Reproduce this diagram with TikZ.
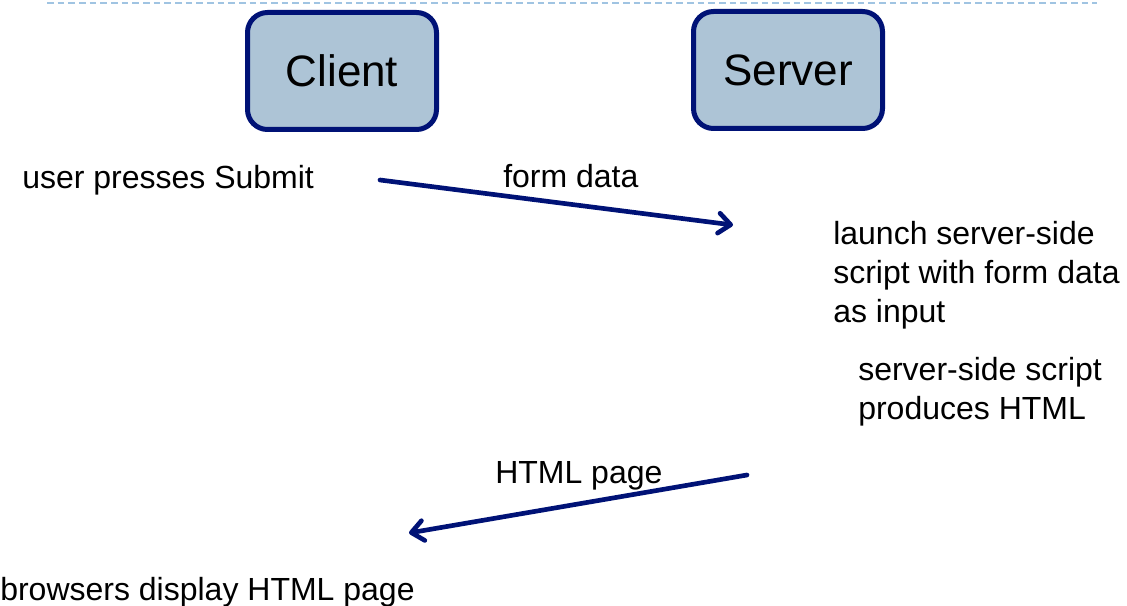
\documentclass[tikz,border=0pt]{standalone}
\usepackage{fontspec}
\setmainfont{Liberation Sans}
\usetikzlibrary{arrows.meta}
\definecolor{navy}{RGB}{0,18,118}
\definecolor{boxfill}{RGB}{173,196,214}
\definecolor{rule}{RGB}{160,196,226}
\tikzset{
  x=0.75pt, y=-0.75pt,
  actor/.style={draw=navy, line width=3.75pt, fill=boxfill, rounded corners=15pt,
    minimum width=141.75pt, minimum height=87.75pt, inner sep=0pt,
    font=\fontsize{33}{40}\selectfont},
  lbl/.style={inner sep=0pt, align=left, font=\fontsize{24}{29.25}\selectfont},
  msg/.style={draw=navy, line width=3.5pt, line cap=round,
    -{Straight Barb[length=9pt, width=15pt, line cap=round, line join=round]}}
}
\begin{document}
\begin{tikzpicture}
\useasboundingbox (0,0) rectangle (1127,606);
% header rule
\draw[rule, line width=0.9pt, dash pattern=on 5pt off 3pt] (47,3) -- (1097,3);

% the two parties
\node[actor] (client) at (342,71) {Client};
\node[actor] (server) at (788,70) {Server};

% step descriptions
\node[lbl, anchor=base west] (submit) at (22,188) {user presses Submit};
\node[lbl, anchor=base west] (formdata) at (503,187) {form data};
\node[lbl, anchor=north west] (launch) at (833,221) {launch server-side\\script with form data\\as input};
\node[lbl, anchor=north west] (produce) at (858,357) {server-side script\\produces HTML};
\node[lbl, anchor=base west] (htmlpage) at (495,483) {HTML page};
\node[lbl, anchor=base west] (display) at (0,600) {browsers display HTML page};

% message arrows
\coordinate (req0) at (380,180);
\coordinate (req1) at (733,225);
\coordinate (resp0) at (747,475);
\coordinate (resp1) at (409,533);
\draw[msg] (req0) -- (req1);
\draw[msg] (resp0) -- (resp1);
\end{tikzpicture}
\end{document}
